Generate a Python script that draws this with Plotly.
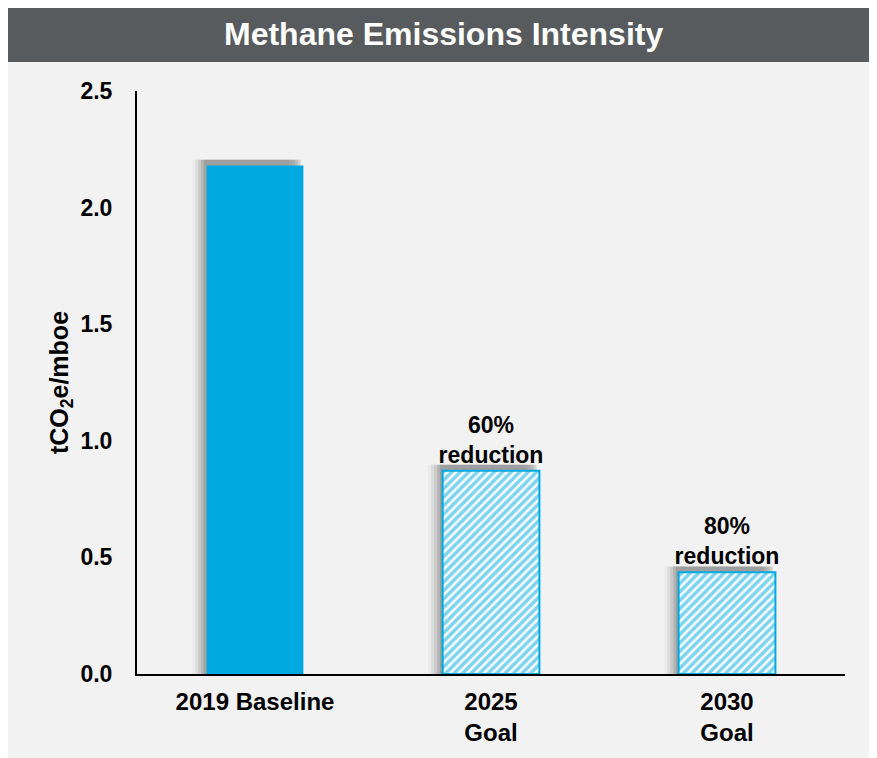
import plotly.graph_objects as go

categories = ["2019 Baseline", "2025<br>Goal", "2030<br>Goal"]
values = [2.18, 0.872, 0.436]
labels = ["", "60%<br>reduction", "80%<br>reduction"]
y_ticks = [0.0, 0.5, 1.0, 1.5, 2.0, 2.5]

BLUE = "#00A9E0"
BG = "#F2F2F2"
BANNER = "#585B5E"
FONT = "Liberation Sans"

fig = go.Figure()

# soft drop shadow (layered translucent bars, offset left)
for off, op in [(0.060, 0.05), (0.048, 0.08), (0.036, 0.11), (0.024, 0.15), (0.012, 0.2)]:
    fig.add_trace(go.Bar(
        x=categories, y=[v + 0.025 for v in values],
        width=0.41, offset=-0.205 - off,
        marker=dict(color="rgba(70,70,70,%s)" % op, line=dict(width=0)),
        hoverinfo="skip", showlegend=False,
    ))

# solid baseline bar
fig.add_trace(go.Bar(
    x=categories[:1], y=values[:1],
    width=0.41, offset=-0.205,
    marker=dict(color=BLUE, line=dict(width=0)),
    showlegend=False,
))

# hatched goal bars
fig.add_trace(go.Bar(
    x=categories[1:], y=values[1:],
    width=0.41, offset=-0.205,
    marker=dict(
        color="white",
        line=dict(color=BLUE, width=2),
        pattern=dict(shape="/", fgcolor=BLUE, bgcolor="white",
                     size=6, solidity=0.6, fillmode="overlay"),
    ),
    text=labels[1:], textposition="outside", cliponaxis=False,
    constraintext="none",
    textfont=dict(family=FONT, size=23, color="black", weight="bold"),
    showlegend=False,
))

fig.update_layout(
    width=877, height=758,
    barmode="overlay",
    paper_bgcolor=BG, plot_bgcolor="rgba(0,0,0,0)",
    margin=dict(l=129, r=40, t=83, b=92, autoexpand=False),
    font=dict(family=FONT, size=18, color="black"),
    shapes=[
        dict(type="rect", xref="paper", yref="paper", x0=-0.3, x1=1.1,
             y0=(666 - 54) / 583, y1=1.2, fillcolor=BANNER, line=dict(width=0), layer="below"),
    ],
    annotations=[
        dict(text="<b>Methane Emissions Intensity</b>", xref="paper", yref="paper",
             x=(435 - 129) / 708, y=(666 - 26) / 583, showarrow=False,
             xanchor="center", yanchor="middle",
             font=dict(family=FONT, size=32, color="white")),
    ],
)

fig.update_xaxes(
    categoryorder="array", categoryarray=categories,
    showline=True, linecolor="black", linewidth=2, ticks="",
    tickfont=dict(family=FONT, size=24, color="black", weight="bold"),
    range=[-0.5, 2.5], showgrid=False, zeroline=False,
    ticklabelstandoff=5,
)
fig.update_yaxes(
    range=[0, 2.5], tickvals=y_ticks, tickformat=".1f",
    showline=True, linecolor="black", linewidth=2, ticks="",
    showgrid=False, zeroline=False,
    tickfont=dict(family=FONT, size=23, color="black", weight="bold"),
    ticklabelstandoff=18,
    title=dict(text="<b>tCO<sub>2</sub>e/mboe</b>", standoff=5,
               font=dict(family=FONT, size=25, color="black")),
)

fig.write_html("out.html")
